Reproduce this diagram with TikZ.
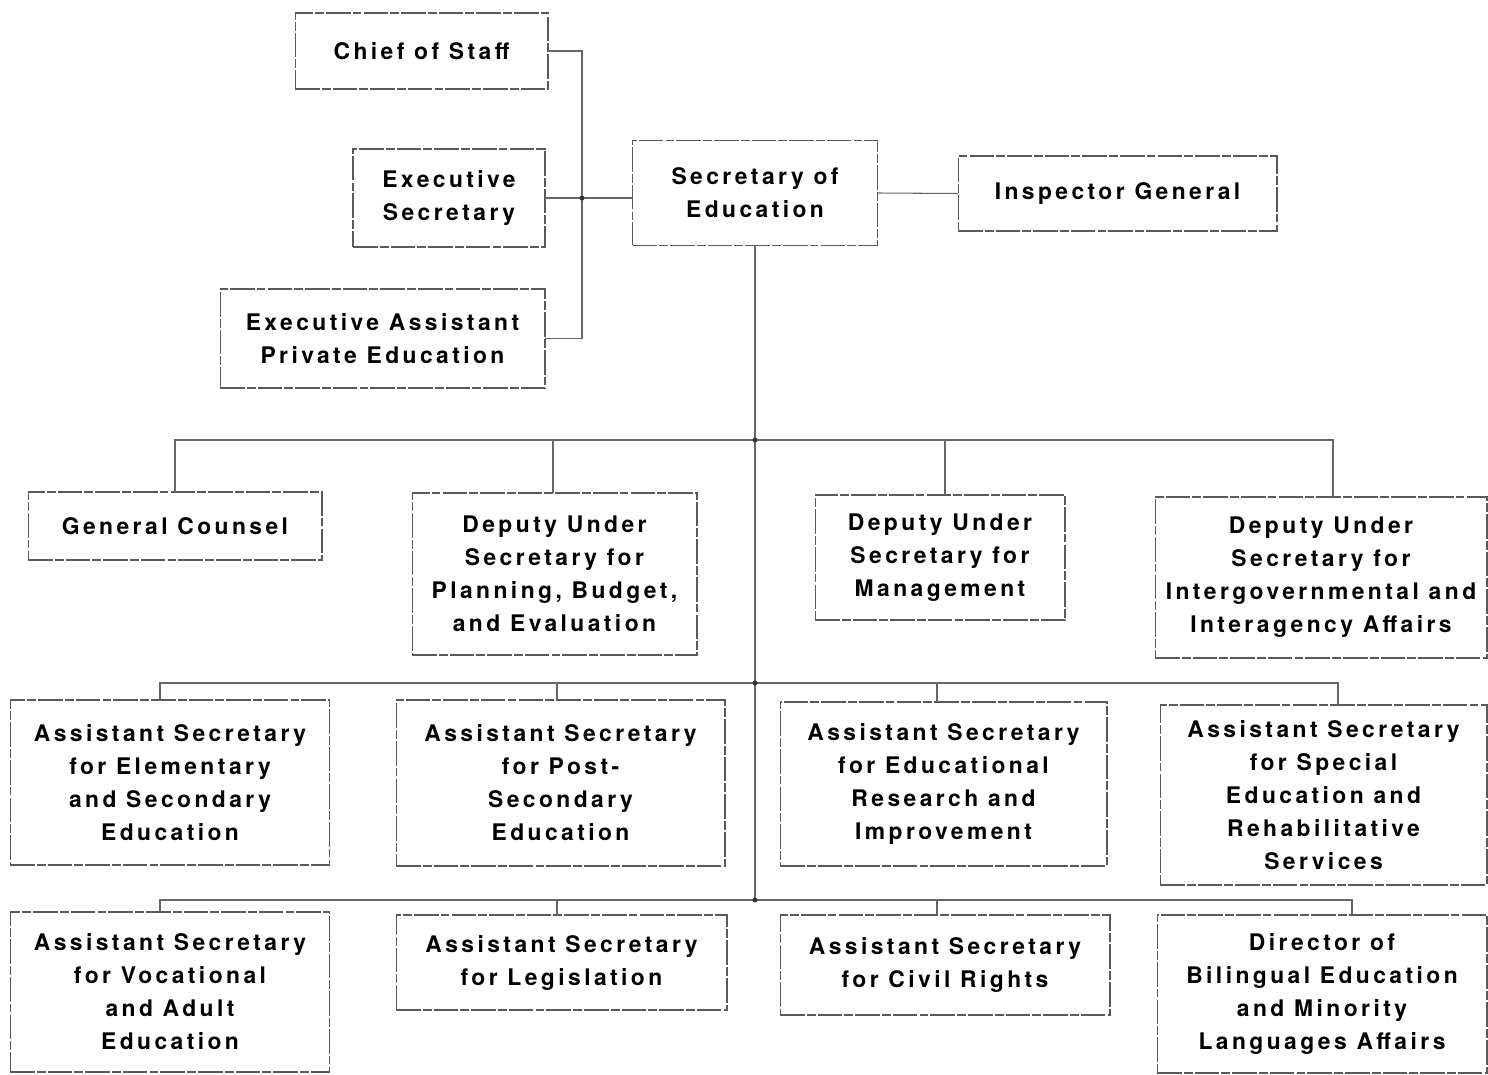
\documentclass[tikz,border=0pt]{standalone}
\usepackage{fontspec}
\setmainfont{TeX Gyre Heros}[LetterSpace=15]
\begin{document}
\begin{tikzpicture}[x=0.02cm, y=-0.02cm,
  every node/.style={font=\fontsize{13}{18.8}\selectfont\bfseries},
  unit/.style={draw=black!65, line width=0.6pt, dash pattern=on 14pt off 1.2pt on 5pt off 1.2pt,
    align=center, inner sep=0pt, outer sep=0pt},
  link/.style={draw=black!60, line width=0.6pt},
  joint/.style={fill=black!80}]
\useasboundingbox (0,0) rectangle (1488,1075);

% --- top level: the Secretary and the immediate office
\node[unit, minimum width=5.06cm, minimum height=1.52cm] (chief) at (421.5,51) {Chief of Staff};
\node[unit, minimum width=3.84cm, minimum height=1.96cm] (exsec) at (449,198) {Executive\\Secretary};
\node[unit, minimum width=4.90cm, minimum height=2.10cm] (seced) at (755,193) {Secretary of\\Education};
\node[unit, minimum width=6.38cm, minimum height=1.50cm] (ig) at (1117.5,193.5) {Inspector General};
\node[unit, minimum width=6.50cm, minimum height=1.98cm] (exasst) at (382.5,338.5) {Executive Assistant\\Private Education};

% --- deputy level
\node[unit, minimum width=5.88cm, minimum height=1.36cm] (gc) at (175,526) {General Counsel};
\node[unit, minimum width=5.70cm, minimum height=3.24cm] (dpbe) at (554.5,574) {Deputy Under\\Secretary for\\Planning, Budget,\\and Evaluation};
\node[unit, minimum width=5.00cm, minimum height=2.50cm] (dmgmt) at (940,557.5) {Deputy Under\\Secretary for\\Management};
\node[unit, minimum width=6.64cm, minimum height=3.22cm] (diia) at (1321,577.5) {Deputy Under\\Secretary for\\Intergovernmental and\\Interagency Affairs};

% --- assistant secretaries, first row
\node[unit, minimum width=6.40cm, minimum height=3.30cm] (aselem) at (170,782.5) {Assistant Secretary\\for Elementary\\and Secondary\\Education};
\node[unit, minimum width=6.58cm, minimum height=3.32cm] (aspost) at (560.5,783) {Assistant Secretary\\for Post-\\Secondary\\Education};
\node[unit, minimum width=6.54cm, minimum height=3.28cm] (asres) at (943.5,784) {Assistant Secretary\\for Educational\\Research and\\Improvement};
\node[unit, minimum width=6.54cm, minimum height=3.60cm] (asspec) at (1323.5,795) {Assistant Secretary\\for Special\\Education and\\Rehabilitative\\Services};

% --- assistant secretaries, second row
\node[unit, minimum width=6.40cm, minimum height=3.20cm] (asvoc) at (170,992) {Assistant Secretary\\for Vocational\\and Adult\\Education};
\node[unit, minimum width=6.62cm, minimum height=1.90cm] (asleg) at (561.5,962.5) {Assistant Secretary\\for Legislation};
\node[unit, minimum width=6.60cm, minimum height=2.00cm] (ascr) at (945,965) {Assistant Secretary\\for Civil Rights};
\node[unit, minimum width=6.60cm, minimum height=3.16cm] (dbil) at (1322,994) {Director of\\Bilingual Education\\and Minority\\Languages Affairs};

% --- junction points
\coordinate (jstaff) at (582,198);
\coordinate (j1) at (755,440);
\coordinate (j2) at (755,683);
\coordinate (j3) at (755,900);

% --- points where the bus lines drop onto their boxes
\coordinate (dgc)    at ([xshift=0cm]gc.north);
\coordinate (ddpbe)  at ([xshift=-0.03cm]dpbe.north);
\coordinate (ddmgmt) at ([xshift=0.10cm]dmgmt.north);
\coordinate (ddiia)  at ([xshift=0.24cm]diia.north);
\coordinate (delem)  at ([xshift=-0.20cm]aselem.north);
\coordinate (dpost)  at ([xshift=-0.07cm]aspost.north);
\coordinate (dres)   at ([xshift=-0.13cm]asres.north);
\coordinate (dspec)  at ([xshift=0.29cm]asspec.north);
\coordinate (dvoc)   at ([xshift=-0.20cm]asvoc.north);
\coordinate (dleg)   at ([xshift=-0.09cm]asleg.north);
\coordinate (dcr)    at ([xshift=-0.16cm]ascr.north);
\coordinate (dbilx)  at ([xshift=0.60cm]dbil.north);

% --- staff connectors
\draw[link] (chief.east) -| (jstaff) |- (exasst.east);
\draw[link] (exsec.east) -- (exsec.east -| seced.west);
\draw[link] (seced.east) -- (ig.west);

% --- main trunk
\draw[link] (seced.south) -- (j3);

% --- deputy bus
\draw[link] (dgc) |- (j1) -| (ddiia);
\draw[link] (ddpbe) -- (ddpbe |- j1);
\draw[link] (ddmgmt) -- (ddmgmt |- j1);

% --- first assistant bus
\draw[link] (delem) |- (j2) -| (dspec);
\draw[link] (dpost) -- (dpost |- j2);
\draw[link] (dres) -- (dres |- j2);

% --- second assistant bus
\draw[link] (dvoc) |- (j3) -| (dbilx);
\draw[link] (dleg) -- (dleg |- j3);
\draw[link] (dcr) -- (dcr |- j3);

% --- junction dots
\foreach \j in {jstaff,j1,j2,j3} \fill[joint] (\j) circle (1.4pt);
\end{tikzpicture}
\end{document}
